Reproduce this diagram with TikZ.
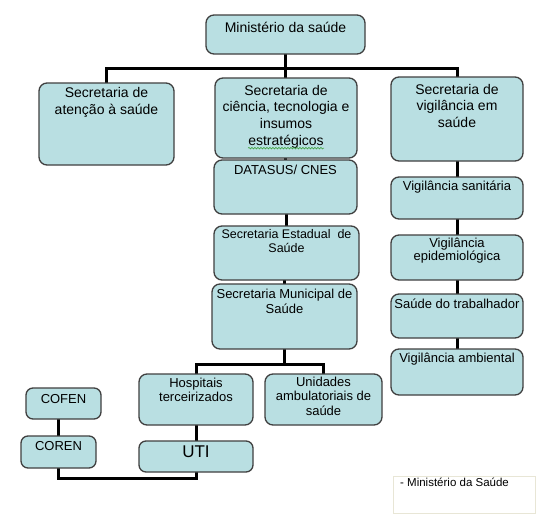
\documentclass[tikz,border=0pt]{standalone}
\usepackage{fontspec}
\setmainfont{Liberation Sans}
\usetikzlibrary{backgrounds,decorations.pathmorphing}
\definecolor{boxfill}{RGB}{185,223,226}
\definecolor{boxline}{RGB}{64,64,64}
\definecolor{legline}{RGB}{232,230,214}
\definecolor{spell}{RGB}{60,160,60}
\tikzset{
  obox/.style={draw=boxline, fill=boxfill, line width=1.3pt, rounded corners=8pt,
    inner sep=0pt, outer sep=0pt, anchor=north west},
  conn/.style={draw=black, line width=3pt, line join=miter},
  lfourteen/.style={anchor=north, inner sep=0pt, outer sep=0pt, align=center,
    font=\fontsize{14}{17}\selectfont, execute at begin node={\rule{0pt}{12pt}}},
  lthirteen/.style={anchor=north, inner sep=0pt, outer sep=0pt, align=center,
    font=\fontsize{13}{13.5}\selectfont, execute at begin node={\rule{0pt}{11pt}}},
}
\begin{document}
\begin{tikzpicture}[x=1pt,y=-1pt]
\useasboundingbox (0,0) rectangle (544,514);

% boxes
\node[obox, minimum width=159pt, minimum height=39pt] (min) at (206,15) {};
\node[obox, minimum width=135pt, minimum height=82pt] (aten) at (39,83) {};
\node[obox, minimum width=142pt, minimum height=80pt] (cien) at (215,78) {};
\node[obox, minimum width=132pt, minimum height=84pt] (vig) at (391,77) {};
\node[obox, minimum width=143pt, minimum height=54pt] (datasus) at (214,160) {};
\node[obox, minimum width=145pt, minimum height=54pt] (estad) at (214,226) {};
\node[obox, minimum width=145pt, minimum height=65pt] (munic) at (212,284) {};
\node[obox, minimum width=132pt, minimum height=42pt] (sanit) at (391,177) {};
\node[obox, minimum width=132pt, minimum height=45pt] (epid) at (391,235) {};
\node[obox, minimum width=132pt, minimum height=44pt] (trab) at (391,294) {};
\node[obox, minimum width=132pt, minimum height=46pt] (amb) at (391,349) {};
\node[obox, minimum width=114pt, minimum height=51pt] (hosp) at (139,374) {};
\node[obox, minimum width=117pt, minimum height=51pt] (unid) at (265,374) {};
\node[obox, minimum width=114pt, minimum height=31pt, rounded corners=7pt] (uti) at (139,441) {};
\node[obox, minimum width=75pt, minimum height=31pt, rounded corners=7pt] (cofen) at (26,388) {};
\node[obox, minimum width=75pt, minimum height=32pt, rounded corners=7pt] (coren) at (21,436) {};
\node[draw=legline, fill=white, line width=1pt, inner sep=0pt, outer sep=0pt, anchor=north west,
  minimum width=142pt, minimum height=37pt] (leg) at (393,476) {};

% helper levels
\coordinate (hA) at (0,68);
\coordinate (hB) at (0,364);
\coordinate (hC) at (0,478);

% connectors
\begin{scope}[on background layer]
\fill[white] (0,0) rectangle (544,514);
\draw[conn] (min.south) -- (min.south |- cien.north);
\draw[conn] (aten.north) -- (aten.north |- hA) -- (vig.north |- hA) -- (vig.north);
\draw[conn] (datasus.north |- cien.south) -- (datasus.north);
\draw[conn] (estad.north |- datasus.south) -- (estad.north);
\draw[conn] (munic.north |- estad.south) -- (munic.north);
\draw[conn] (munic.south) -- (munic.south |- hB);
\draw[conn] (hosp.north) -- (hosp.north |- hB) -- (unid.north |- hB) -- (unid.north);
\draw[conn] (hosp.south) -- (uti.north);
\draw[conn] (coren.north) -- (coren.north |- cofen.south);
\draw[conn] (coren.south) -- (coren.south |- hC) -- (uti.south |- hC) -- (uti.south);
\draw[conn] (vig.south) -- (sanit.north);
\draw[conn] (sanit.south) -- (epid.north);
\draw[conn] (epid.south) -- (trab.north);
\draw[conn] (trab.south) -- (amb.north);
\end{scope}

% texts
\node[lfourteen] (tmin) at ([yshift=-5pt]min.north) {Ministério da saúde};
\node[lfourteen] (taten) at ([yshift=-4pt]aten.north) {Secretaria de\\atenção à saúde};
\node[lfourteen, font=\fontsize{14}{16.8}\selectfont] (tcien) at ([yshift=-7pt]cien.north)
  {Secretaria de\\ciência, tecnologia e\\insumos\\estratégicos};
\node[lfourteen, font=\fontsize{14}{16.5}\selectfont] (tvig) at ([yshift=-7pt]vig.north)
  {Secretaria de\\vigilância em\\saúde};
\node[lthirteen] (tdatasus) at ([yshift=-3pt]datasus.north) {DATASUS/ CNES};
\node[lthirteen, font=\fontsize{12.5}{13.3}\selectfont] (testad) at ([yshift=-3.7pt]estad.north)
  {Secretaria Estadual\ \ de\\Saúde};
\node[lthirteen, font=\fontsize{13}{15}\selectfont] (tmunic) at ([yshift=-5pt]munic.north)
  {Secretaria Municipal de\\Saúde};
\node[lthirteen] (tsanit) at ([yshift=-2.7pt]sanit.north) {Vigilância sanitária};
\node[lthirteen, font=\fontsize{13}{13.3}\selectfont] (tepid) at ([yshift=-3pt]epid.north)
  {Vigilância\\epidemiológica};
\node[lthirteen] (ttrab) at ([yshift=-3pt]trab.north) {Saúde do trabalhador};
\node[lthirteen] (tamb) at ([yshift=-2pt]amb.north) {Vigilância ambiental};
\node[lthirteen, font=\fontsize{13}{13.7}\selectfont] (thosp) at ([yshift=-4pt]hosp.north)
  {Hospitais\\terceirizados};
\node[lthirteen, font=\fontsize{13}{14.2}\selectfont] (tunid) at ([yshift=-3.3pt]unid.north)
  {Unidades\\ambulatoriais de\\saúde};
\node[lthirteen] (tcofen) at ([yshift=-4pt]cofen.north) {COFEN};
\node[lthirteen] (tcoren) at ([yshift=-3.7pt]coren.north) {COREN};
\node[lthirteen, font=\fontsize{17}{18}\selectfont, execute at begin node={\rule{0pt}{13pt}}]
  (tuti) at ([yshift=-3.7pt]uti.north) {UTI};
\node[anchor=base west, inner sep=0pt, font=\fontsize{11.5}{13}\selectfont] (tleg)
  at ([xshift=7pt, yshift=-10.7pt]leg.north west) {- Ministério da Saúde};

% spell-check squiggle under "estratégicos"
\draw[spell, line width=0.6pt, decorate, decoration={snake, amplitude=0.8pt, segment length=3pt}]
  ([xshift=-38pt, yshift=-2.6pt]tcien.base) -- ([xshift=38pt, yshift=-2.6pt]tcien.base);
\end{tikzpicture}
\end{document}
